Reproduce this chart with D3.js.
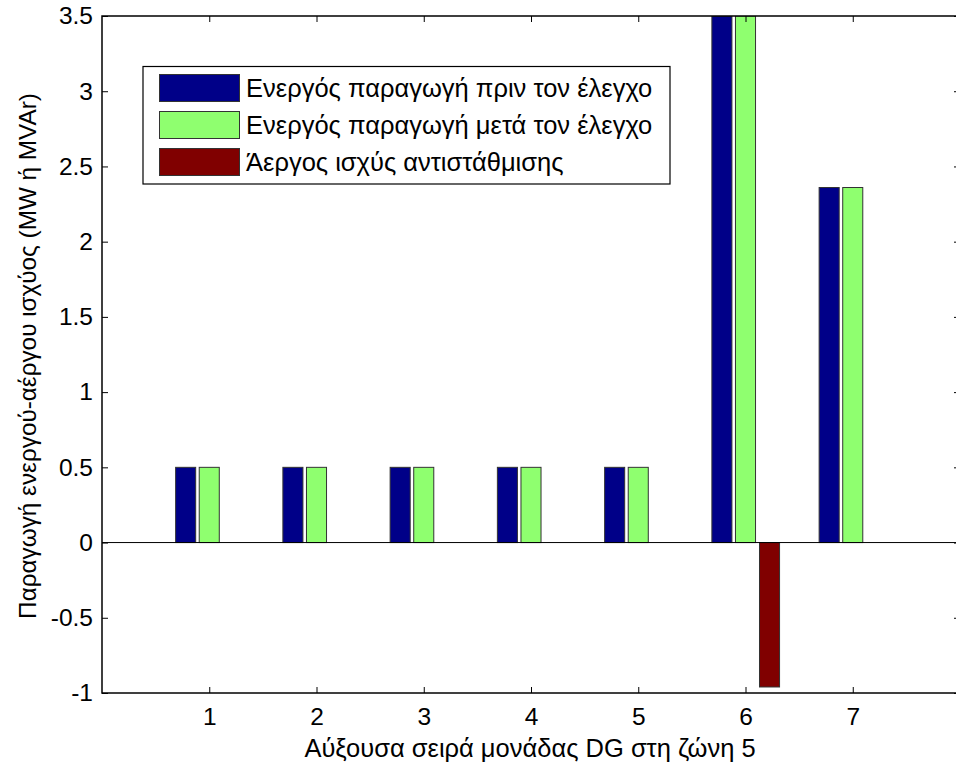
<!DOCTYPE html>
<html><head><meta charset="utf-8">
<script src="https://cdn.jsdelivr.net/npm/d3@7"></script>
<style>body{margin:0;background:#fff}svg{display:block;font-family:"Liberation Sans",Arial,sans-serif}</style>
</head><body>
<script>
const categories = [1, 2, 3, 4, 5, 6, 7];
const seriesNames = ["Ενεργός παραγωγή πριν τον έλεγχο", "Ενεργός παραγωγή μετά τον έλεγχο", "Άεργος ισχύς αντιστάθμισης"];
const before = [0.5, 0.5, 0.5, 0.5, 0.5, 3.5, 2.36];
const after = [0.5, 0.5, 0.5, 0.5, 0.5, 3.5, 2.36];
const reactive = [0, 0, 0, 0, 0, -0.96, 0];
const yTicks = [-1, -0.5, 0, 0.5, 1, 1.5, 2, 2.5, 3, 3.5];
const colors = ["#000088", "#8fff6f", "#800000"];
const xLabel = "Αύξουσα σειρά μονάδας DG στη ζώνη 5";
const yLabel = "Παραγωγή ενεργού-αέργου ισχύος (MW ή MVAr)";

const W = 956, H = 766;
const L = 102, R = 960, T = 16, B = 693;
const svg = d3.select("body").append("svg").attr("width", W).attr("height", H);
const x = d3.scaleLinear().domain([0, 8]).range([L, R]);
const y = d3.scaleLinear().domain([-1, 3.5]).range([B, T]);

svg.append("defs").append("clipPath").attr("id", "clip")
  .append("rect").attr("x", L).attr("y", T).attr("width", R - L).attr("height", B - T);

const series = [before, after, reactive];
const offsets = [-0.22, 0, 0.224];
const bw = 0.187;
const g = svg.append("g").attr("clip-path", "url(#clip)");
series.forEach((vals, si) => {
  g.selectAll(null).data(vals).enter().append("rect")
    .attr("x", (d, i) => x(categories[i] + offsets[si] - bw / 2))
    .attr("width", x(bw) - x(0))
    .attr("y", d => y(Math.max(d, 0)))
    .attr("height", d => Math.abs(y(d) - y(0)))
    .attr("fill", colors[si])
    .attr("stroke", "#333").attr("stroke-width", 1);
});

// zero line
svg.append("line").attr("x1", L).attr("x2", R).attr("y1", y(0)).attr("y2", y(0))
  .attr("stroke", "#000").attr("stroke-width", 1);

// axes (inside ticks)
const tl = 6;
const axB = d3.axisBottom(x).tickValues(categories).tickSize(-tl).tickPadding(15).tickFormat(d3.format("d"));
const axT = d3.axisTop(x).tickValues(categories).tickSize(-tl).tickFormat("");
const axL = d3.axisLeft(y).tickValues(yTicks).tickSize(-tl).tickPadding(9).tickFormat(d => String(d));
const axR = d3.axisRight(y).tickValues(yTicks).tickSize(-tl).tickFormat("");
function style(sel) {
  sel.select(".domain").remove();
  sel.selectAll("line").attr("stroke", "#000");
  sel.selectAll("text").attr("font-size", 24.5).attr("fill", "#000")
     .attr("font-family", "Liberation Sans, Arial, sans-serif");
}
svg.append("g").attr("transform", `translate(0,${B})`).call(axB).call(style);
svg.append("g").attr("transform", `translate(0,${T})`).call(axT).call(style);
svg.append("g").attr("transform", `translate(${L},0)`).call(axL).call(style);
svg.append("g").attr("transform", `translate(${R},0)`).call(axR).call(style);

svg.append("rect").attr("x", L).attr("y", T).attr("width", R - L).attr("height", B - T)
  .attr("fill", "none").attr("stroke", "#000").attr("stroke-width", 1.5);

// axis labels
svg.append("text").attr("x", 530).attr("y", 757).attr("text-anchor", "middle")
  .attr("font-size", 25.5).text(xLabel);
svg.append("text").attr("transform", `translate(36,356) rotate(-90)`).attr("text-anchor", "middle")
  .attr("font-size", 24.3).text(yLabel);

// legend
const lg = svg.append("g");
lg.append("rect").attr("x", 143).attr("y", 66.5).attr("width", 527).attr("height", 117.5)
  .attr("fill", "#fff").attr("stroke", "#000").attr("stroke-width", 1.2);
const rowsY = [74.5, 111.5, 148.5];
seriesNames.forEach((n, i) => {
  lg.append("rect").attr("x", 159.5).attr("y", rowsY[i]).attr("width", 80).attr("height", 27)
    .attr("fill", colors[i]).attr("stroke", "#333").attr("stroke-width", 1);
  lg.append("text").attr("x", 246).attr("y", rowsY[i] + 22.5).attr("font-size", 25.5).text(n);
});
</script>
</body></html>
